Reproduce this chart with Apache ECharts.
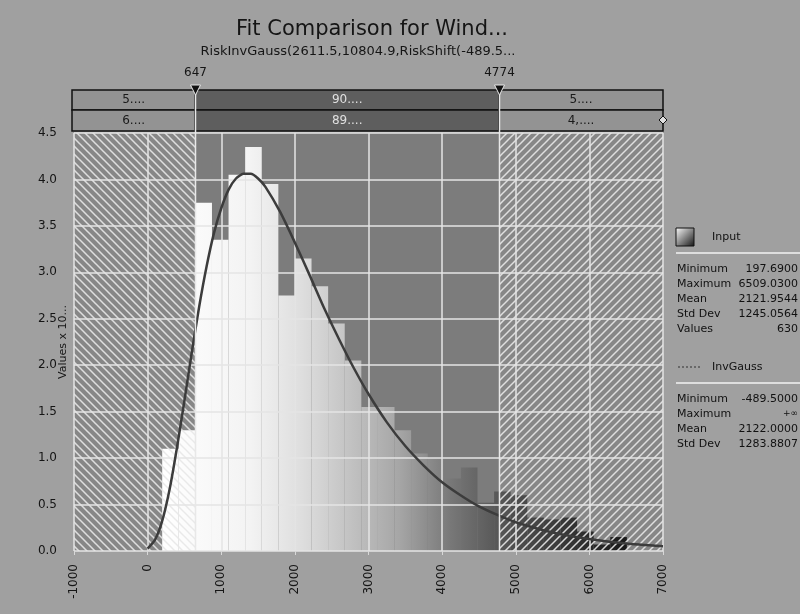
<!DOCTYPE html>
<html><head><meta charset="utf-8">
<script src="https://cdn.jsdelivr.net/npm/echarts@6/dist/echarts.min.js"></script>
<style>html,body{margin:0;padding:0;background:#a0a0a0}#c{width:800px;height:614px}</style>
</head><body><div id="c"></div><script>
// ---- data ----
const binEdges = [197.7, 423.1, 648.5, 873.9, 1099.3, 1324.7, 1550.1, 1775.5, 2000.9, 2226.3,
  2451.7, 2677.1, 2902.5, 3127.9, 3353.4, 3578.8, 3804.2, 4029.6, 4255.0, 4480.4,
  4705.8, 4931.2, 5156.6, 5382.0, 5607.4, 5832.8, 6058.2, 6283.6, 6509.0];
const binHeights = [1.1, 1.3, 3.75, 3.35, 4.05, 4.35, 3.95, 2.75, 3.15, 2.85,
  2.45, 2.05, 1.55, 1.55, 1.3, 1.05, 1.0, 0.78, 0.9, 0.52,
  0.64, 0.6, 0.36, 0.34, 0.36, 0.21, 0.07, 0.15];
const fitX = [0, 100, 200, 300, 400, 500, 600, 700, 800, 900, 1000, 1100, 1200,
  1300, 1400, 1500, 1600, 1800, 2000, 2200, 2400, 2600, 2800, 3000, 3250, 3500, 3750, 4000,
  4250, 4500, 4774, 5000, 5500, 6000, 6500, 7000];
const fitY = [0.026, 0.12, 0.33, 0.67, 1.12, 1.62, 2.14, 2.63, 3.06, 3.42, 3.69, 3.89, 4.01,
  4.06, 4.06, 4.01, 3.92, 3.65, 3.32, 2.97, 2.61, 2.28, 1.97, 1.69, 1.385, 1.13, 0.92, 0.74,
  0.6, 0.48, 0.38, 0.31, 0.2, 0.13, 0.08, 0.05];
const regionBounds = [-1000, 647, 4774, 7000];
const markerValues = [647, 4774];
const markerLabels = ['647', '4774'];
const bandFit = ['5....', '90....', '5....'];
const bandInput = ['6....', '89....', '4,....'];
const inputStats = [['Minimum', '197.6900'], ['Maximum', '6509.0300'], ['Mean', '2121.9544'], ['Std Dev', '1245.0564'], ['Values', '630']];
const fitStats = [['Minimum', '-489.5000'], ['Maximum', '+\u221e'], ['Mean', '2122.0000'], ['Std Dev', '1283.8807']];
const titleText = 'Fit Comparison for Wind...';
const subtitleText = 'RiskInvGauss(2611.5,10804.9,RiskShift(-489.5...';
const yName = 'Values x 10...';
const inputName = 'Input';
const fitName = 'InvGauss';

// ---- styles ----
const FONT = 'DejaVu Sans';
const TOP_Y = 133, BAND_Y0 = 90, BAND_Y1 = 110, BAND_Y2 = 131;
function hatch(dir) {
  const s = 8;
  const c = document.createElement('canvas'); c.width = s; c.height = s;
  const g = c.getContext('2d');
  g.strokeStyle = 'rgba(232,232,232,0.9)'; g.lineWidth = 1.5; g.beginPath();
  if (dir > 0) { g.moveTo(-1, s + 1); g.lineTo(s + 1, -1); g.moveTo(-s, s); g.lineTo(s, -s); g.moveTo(0, 2 * s); g.lineTo(2 * s, 0); }
  else { g.moveTo(-1, -1); g.lineTo(s + 1, s + 1); g.moveTo(-s, 0); g.lineTo(s, 2 * s); g.moveTo(0, -s); g.lineTo(2 * s, s); }
  g.stroke(); return c;
}
const hatchBack = hatch(-1), hatchFwd = hatch(1);

const histData = binHeights.map((h, i) => [binEdges[i], binEdges[i + 1], h]);
const regionData = [[regionBounds[0], regionBounds[1], 0], [regionBounds[1], regionBounds[2], 1], [regionBounds[2], regionBounds[3], 2]];
const fitData = fitX.map((x, i) => [x, fitY[i]]);

const chart = echarts.init(document.getElementById('c'), null, { renderer: 'canvas' });

const graphics = [
  { type: 'text', x: 372, y: 30, style: { text: titleText, font: '21px ' + FONT, fill: '#151515', align: 'center', verticalAlign: 'middle' } },
  { type: 'text', x: 358, y: 52, style: { text: subtitleText, font: '13px ' + FONT, fill: '#151515', align: 'center', verticalAlign: 'middle' } },
  { type: 'text', x: 63, y: 342, rotation: Math.PI / 2, style: { text: yName, font: '11px ' + FONT, fill: '#151515', align: 'center', verticalAlign: 'middle' } }
];
const legendItems = [];
legendItems.push({ type: 'rect', shape: { x: 676, y: 228, width: 18, height: 18 }, style: { fill: { type: 'linear', x: 0, y: 0, x2: 1, y2: 1, colorStops: [{ offset: 0, color: '#ffffff' }, { offset: 1, color: '#111' }] }, stroke: '#111', lineWidth: 1 } });
legendItems.push({ type: 'text', x: 712, y: 237, style: { text: inputName, font: '11px ' + FONT, fill: '#111', verticalAlign: 'middle' } });
legendItems.push({ type: 'line', shape: { x1: 676, y1: 253, x2: 800, y2: 253 }, style: { stroke: '#dedede', lineWidth: 2 } });
inputStats.forEach((r, i) => {
  const y = 269 + i * 15;
  legendItems.push({ type: 'text', x: 677, y, style: { text: r[0], font: '11px ' + FONT, fill: '#111', verticalAlign: 'middle' } });
  legendItems.push({ type: 'text', x: 798, y, style: { text: r[1], font: '11px ' + FONT, fill: '#111', align: 'right', verticalAlign: 'middle' } });
});
legendItems.push({ type: 'line', shape: { x1: 678, y1: 367, x2: 702, y2: 367 }, style: { stroke: '#555', lineWidth: 1.5, lineDash: [2, 2] } });
legendItems.push({ type: 'text', x: 712, y: 367, style: { text: fitName, font: '11px ' + FONT, fill: '#111', verticalAlign: 'middle' } });
legendItems.push({ type: 'line', shape: { x1: 676, y1: 383, x2: 800, y2: 383 }, style: { stroke: '#dedede', lineWidth: 2 } });
fitStats.forEach((r, i) => {
  const y = 399 + i * 15;
  legendItems.push({ type: 'text', x: 677, y, style: { text: r[0], font: '11px ' + FONT, fill: '#111', verticalAlign: 'middle' } });
  legendItems.push({ type: 'text', x: 798, y, style: { text: r[1], font: (r[1].length < 4 ? '9px ' : '11px ') + FONT, fill: '#111', align: 'right', verticalAlign: 'middle' } });
});
legendItems.push({ type: 'polygon', shape: { points: [[663, 116], [667, 120], [663, 124], [659, 120]] }, style: { fill: '#e0e0e0', stroke: '#111', lineWidth: 1 }, z: 12 });

const option = {
  backgroundColor: '#a0a0a0',
  animation: false,
  grid: { left: 74, right: 137, top: TOP_Y, bottom: 63, containLabel: false },
  xAxis: {
    type: 'value', min: -1000, max: 7000, interval: 1000, z: 5,
    axisLine: { show: false },
    axisTick: { show: true, length: 4, lineStyle: { color: '#d8d8d8' } },
    axisLabel: { rotate: 90, margin: 13, color: '#151515', fontSize: 12, fontFamily: FONT, formatter: v => String(v) },
    splitLine: { show: true, lineStyle: { color: '#e4e4e4', width: 1.5 } }
  },
  yAxis: {
    type: 'value', min: 0, max: 4.5, interval: 0.5, z: 5,
    axisLine: { show: false },
    axisTick: { show: false },
    axisLabel: { margin: 17, color: '#151515', fontSize: 12, fontFamily: FONT, formatter: v => v.toFixed(1) },
    splitLine: { show: true, lineStyle: { color: '#e4e4e4', width: 1.5 } }
  },
  graphic: graphics.concat(legendItems),
  series: [
    { // plot regions background
      type: 'custom', z: 1, silent: true, clip: true, data: regionData,
      renderItem: (params, api) => {
        const a = api.coord([api.value(0), 4.5]), b = api.coord([api.value(1), 0]);
        const idx = api.value(2);
        return { type: 'rect', shape: { x: a[0], y: a[1], width: b[0] - a[0], height: b[1] - a[1] }, style: { fill: idx === 1 ? '#7c7c7c' : '#878787' } };
      }
    },
    { // histogram
      type: 'custom', name: inputName, z: 3, silent: true, clip: true, data: histData,
      renderItem: (params, api) => {
        const a = api.coord([api.value(0), api.value(2)]), b = api.coord([api.value(1), 0]);
        const gx0 = api.coord([binEdges[0], 0])[0], gx1 = api.coord([binEdges[binEdges.length - 1], 0])[0];
        return {
          type: 'rect', shape: { x: a[0], y: a[1], width: b[0] - a[0], height: b[1] - a[1] },
          style: { fill: { type: 'linear', x: gx0, y: 0, x2: gx1, y2: 0, global: true, colorStops: [
            { offset: 0, color: '#ffffff' }, { offset: 0.19, color: '#f3f3f3' }, { offset: 0.3, color: '#dedede' },
            { offset: 0.51, color: '#a6a6a6' }, { offset: 0.62, color: '#787878' }, { offset: 0.73, color: '#555555' },
            { offset: 1, color: '#1a1a1a' }] } }
        };
      }
    },
    { // hatched outer regions
      type: 'custom', z: 4, silent: true, clip: true, data: [regionData[0], regionData[2]],
      renderItem: (params, api) => {
        const a = api.coord([api.value(0), 4.5]), b = api.coord([api.value(1), 0]);
        return { type: 'rect', shape: { x: a[0], y: a[1], width: b[0] - a[0], height: b[1] - a[1] }, style: { fill: { image: api.value(2) === 0 ? hatchBack : hatchFwd, repeat: 'repeat' } } };
      }
    },
    { // fitted curve
      type: 'line', name: fitName, z: 10, data: fitData, showSymbol: false, smooth: 0.2,
      lineStyle: { color: '#3c3c3c', width: 2.5 }, silent: true
    },
    { // top band
      type: 'custom', z: 10, silent: true, clip: false, data: regionData,
      renderItem: (params, api) => {
        const i = api.value(2);
        const x0 = api.coord([api.value(0), 0])[0] - (i === 0 ? 2 : 0), x1 = api.coord([api.value(1), 0])[0];
        const fill = i === 1 ? '#5e5e5e' : '#939393';
        const tc = i === 1 ? '#e0e0e0' : '#1a1a1a';
        const cx = (x0 + x1) / 2;
        return { type: 'group', children: [
          { type: 'rect', shape: { x: x0, y: BAND_Y0, width: x1 - x0, height: BAND_Y1 - BAND_Y0 }, style: { fill, stroke: '#111', lineWidth: 1.5 } },
          { type: 'rect', shape: { x: x0, y: BAND_Y1, width: x1 - x0, height: BAND_Y2 - BAND_Y1 }, style: { fill, stroke: '#111', lineWidth: 1.5 } },
          { type: 'text', x: cx, y: (BAND_Y0 + BAND_Y1) / 2, style: { text: bandFit[i], font: '12px ' + FONT, fill: tc, align: 'center', verticalAlign: 'middle' } },
          { type: 'text', x: cx, y: (BAND_Y1 + BAND_Y2) / 2, style: { text: bandInput[i], font: '12px ' + FONT, fill: tc, align: 'center', verticalAlign: 'middle' } }
        ] };
      }
    },
    { // marker lines + triangles + labels
      type: 'custom', z: 11, silent: true, clip: false, data: markerValues.map((v, i) => [v, i]),
      renderItem: (params, api) => {
        const p = api.coord([api.value(0), 0]);
        const x = Math.round(p[0]) + 0.5;
        return { type: 'group', children: [
          { type: 'line', shape: { x1: x, y1: 86, x2: x, y2: p[1] }, style: { stroke: '#e8e8e8', lineWidth: 1.5 } },
          { type: 'polygon', shape: { points: [[x - 5, 85], [x + 5, 85], [x, 95]] }, style: { fill: '#111', stroke: '#e8e8e8', lineWidth: 1 } },
          { type: 'text', x: x, y: 73, style: { text: markerLabels[api.value(1)], font: '12px ' + FONT, fill: '#151515', align: 'center', verticalAlign: 'middle' } }
        ] };
      }
    }
  ]
};
chart.setOption(option);
</script></body></html>
